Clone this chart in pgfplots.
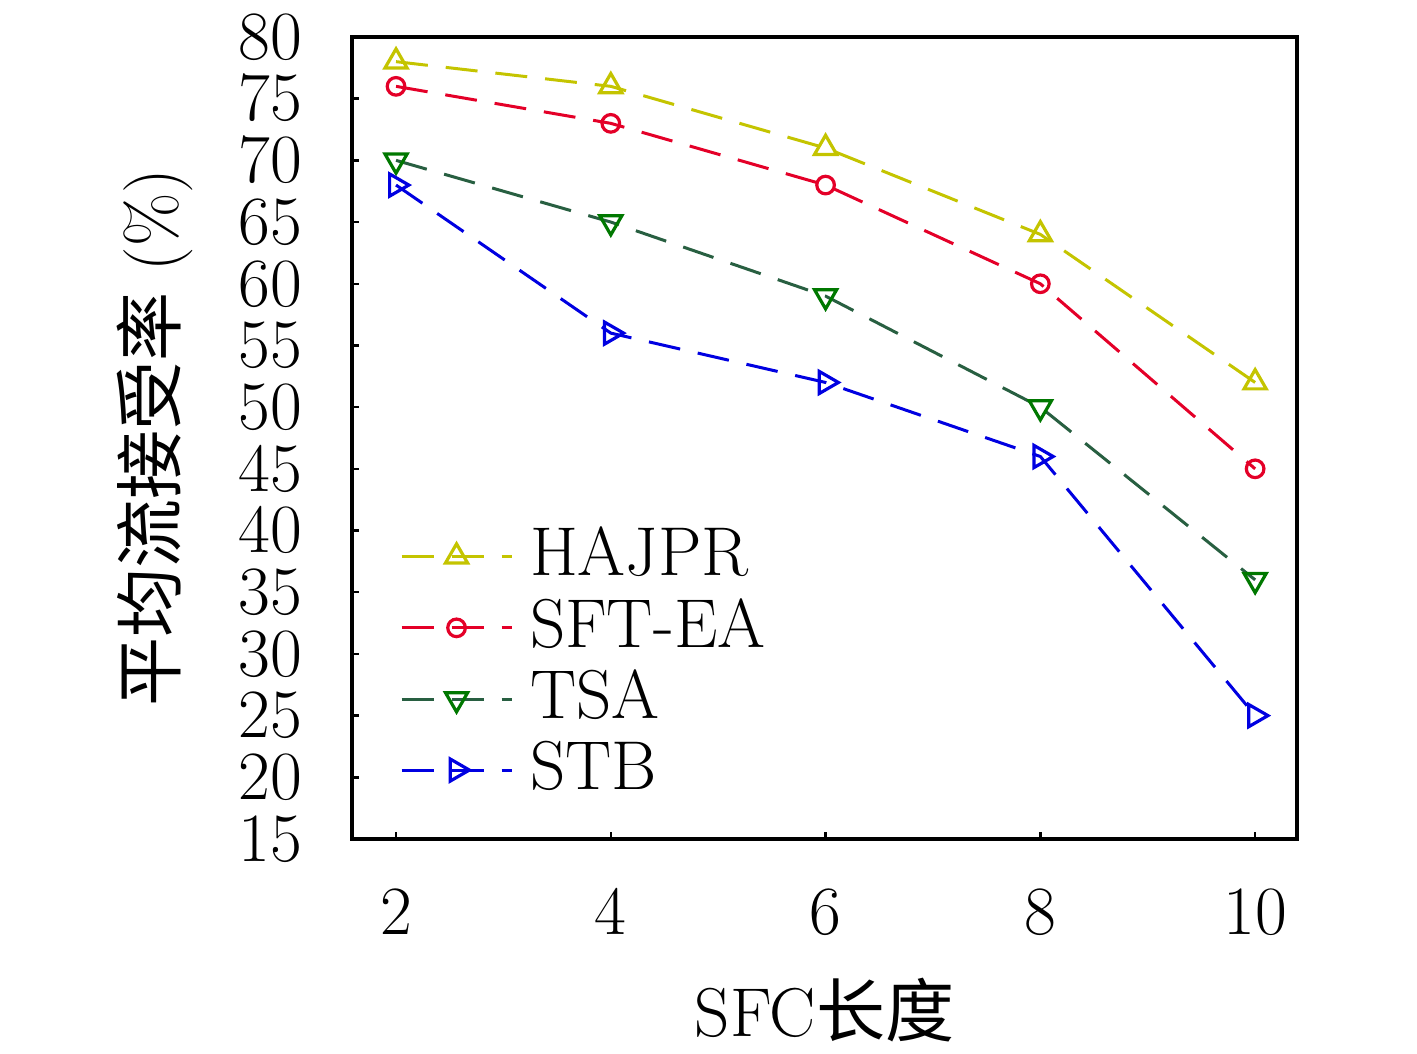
\documentclass[border=0pt]{standalone}
\usepackage{fontspec}
\newfontfamily\cjk{Noto Sans CJK SC}
\usepackage{pgfplots}
\pgfplotsset{compat=1.18}
\definecolor{cH}{RGB}{196,196,0}
\definecolor{cS}{RGB}{228,0,40}
\definecolor{cTl}{RGB}{40,95,65}
\definecolor{cTm}{RGB}{0,120,0}
\definecolor{cB}{RGB}{0,0,225}
\begin{document}
\fontsize{17.28}{20}\selectfont
\begin{tikzpicture}
\begin{axis}[
  scale only axis,
  width=236.25pt, height=200.5pt,
  xmin=1.59, xmax=10.39,
  ymin=15, ymax=80,
  xtick={2,4,6,8,10},
  ytick={15,20,...,80},
  tick pos=left, tick align=inside,
  major tick length=1.8pt,
  axis line style={line width=0.8pt},
  every tick/.style={black, line width=0.6pt},
  tick label style={font=\fontsize{17.28}{20}\selectfont},
  xticklabel style={yshift=-6.75pt},
  yticklabel style={xshift=-6.5pt},
  xlabel={SFC{\cjk 长度}},
  ylabel={{\cjk 平均流接受率} (\%)},
  label style={font=\fontsize{17.28}{20}\selectfont},
  xlabel style={at={(axis description cs:0.5,0)}, anchor=center, yshift=-42.75pt},
  ylabel style={at={(axis description cs:0,0.5)}, anchor=center, rotate=0, yshift=49.25pt},
  every axis plot/.append style={line width=0.75pt, dash pattern=on 8pt off 4.5pt},
  every mark/.append style={solid},
  legend style={at={(rel axis cs:0.05,0.40)}, anchor=north west, draw=none, fill=none,
    font=\fontsize{17.28}{20}\selectfont, inner sep=0pt, row sep=-1pt,
    /tikz/every odd column/.append style={column sep=2.25pt}},
  legend cell align=left,
  legend image code/.code={\draw[mark repeat=2, mark phase=2, #1] plot coordinates {(0pt,0pt) (13.75pt,0pt) (27.5pt,0pt)};},
]
\addplot[color=cH, mark=triangle, mark size=3.2pt, mark options={solid, cH, line width=0.8pt}] coordinates {(2,78) (4,76) (6,71) (8,64) (10,52)};
\addlegendentry{HAJPR}
\addplot[color=cS, mark=o, mark size=2.2pt, mark options={solid, cS, line width=0.8pt}] coordinates {(2,76) (4,73) (6,68) (8,60) (10,45)};
\addlegendentry{SFT-EA}
\addplot[color=cTl, mark=triangle, mark size=3.2pt, mark options={solid, cTm, rotate=180, line width=0.8pt}] coordinates {(2,70) (4,65) (6,59) (8,50) (10,36)};
\addlegendentry{TSA}
\addplot[color=cB, mark=triangle, mark size=3.2pt, mark options={solid, cB, rotate=-90, line width=0.8pt}] coordinates {(2,68) (4,56) (6,52) (8,46) (10,25)};
\addlegendentry{STB}
\end{axis}
\path (current axis.south west) ++(-88pt,-53.75pt) coordinate (bbA);
\path (current axis.north east) ++(30pt,9.25pt) coordinate (bbB);
\pgfresetboundingbox
\useasboundingbox (bbA) rectangle (bbB);
\end{tikzpicture}
\end{document}
